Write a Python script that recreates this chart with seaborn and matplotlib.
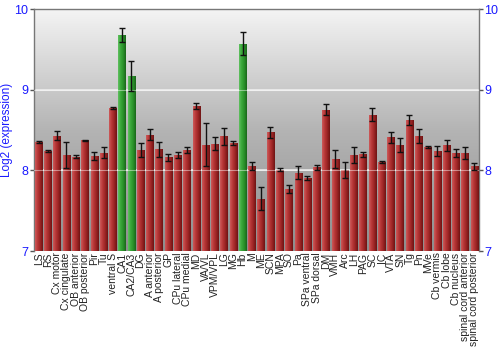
import numpy as np
import pandas as pd
import matplotlib
matplotlib.use("Agg")
import matplotlib.pyplot as plt
import seaborn as sns
from matplotlib.colors import LinearSegmentedColormap

regions = ["LS", "RS", "Cx motor", "Cx cingulate", "OB anterior", "OB posterior", "Pir", "Tu",
           "ventral S", "CA1", "CA2/CA3", "DG", "A anterior", "A posterior", "GP", "CPu lateral",
           "CPu medial", "MD", "VA/VL", "VPM/VPL", "LG", "MG", "Hb", "M", "ME", "SCN", "MPA", "SO",
           "Pa", "SPa ventral", "SPa dorsal", "DM", "VMH", "Arc", "LH", "PAG", "SC", "IC", "VTA",
           "SN", "Tg", "Pn", "MVe", "Cb vermis", "Cb lobe", "Cb nucleus", "spinal cord anterior",
           "spinal cord posterior"]
expression = [8.35, 8.24, 8.43, 8.19, 8.17, 8.37, 8.18, 8.22,
              8.77, 9.68, 9.17, 8.25, 8.44, 8.26, 8.16, 8.19,
              8.25, 8.80, 8.32, 8.33, 8.42, 8.34, 9.57, 8.05, 7.65, 8.47, 8.01, 7.77,
              7.97, 7.905, 8.04, 8.75, 8.14, 8.00, 8.19, 8.20, 8.69, 8.10, 8.41,
              8.31, 8.62, 8.43, 8.29, 8.24, 8.31, 8.21, 8.215, 8.05]
error = [0.01, 0.01, 0.06, 0.16, 0.02, 0.01, 0.05, 0.07,
         0.01, 0.09, 0.19, 0.09, 0.07, 0.09, 0.04, 0.04,
         0.035, 0.04, 0.27, 0.08, 0.10, 0.02, 0.145, 0.05, 0.145, 0.07, 0.015, 0.05,
         0.08, 0.02, 0.03, 0.07, 0.11, 0.10, 0.095, 0.03, 0.08, 0.015, 0.065,
         0.087, 0.06, 0.085, 0.01, 0.06, 0.07, 0.05, 0.075, 0.04]
highlight = ["CA1", "CA2/CA3", "Hb"]
y_ticks = [7, 8, 9, 10]

df = pd.DataFrame({"region": regions, "expr": expression, "err": error})
df["group"] = ["green" if r in highlight else "red" for r in regions]

sns.set_style("white")
plt.rcParams["font.family"] = ["Liberation Sans", "DejaVu Sans"]

fig = plt.figure(figsize=(5, 3.5), dpi=100)
ax = fig.add_axes([34 / 500, (350 - 251) / 350, (479 - 34) / 500, (251 - 9) / 350])

ax.set_ylim(7, 10)
ax.set_xlim(-0.5, len(regions) - 0.5)

# background gradient
bg = LinearSegmentedColormap.from_list("bg", ["#8e8e8e", "#b4b4b4", "#f4f4f4"])
grad = np.linspace(0, 1, 256).reshape(-1, 1)
ax.imshow(grad, aspect="auto", cmap=bg, origin="lower",
          extent=[-0.5, len(regions) - 0.5, 7, 10], zorder=0)

for v in [8, 9]:
    ax.axhline(v, color="#f4f4f4", lw=1.2, alpha=0.85, zorder=1)
    ax.axhline(v, color="#ffffff", lw=0.8, alpha=0.45, zorder=3.5)

palette = {"red": "#b03030", "green": "#34a034"}
sns.barplot(data=df, x="region", y="expr", hue="group", palette=palette, dodge=False,
            width=0.8, legend=False, ax=ax, errorbar=None, zorder=2, linewidth=0)

red_cm = LinearSegmentedColormap.from_list("r", ["#cc5a5a", "#b83838", "#9a2424", "#6e1414"])
green_cm = LinearSegmentedColormap.from_list("g", ["#60c060", "#3aa83a", "#2a902a", "#1a661a"])
hgrad = np.linspace(0, 1, 64).reshape(1, -1)
for p in ax.patches:
    h = p.get_height()
    if h is None or np.isnan(h) or h == 0:
        continue
    x0 = p.get_x()
    w = p.get_width()
    fc = p.get_facecolor()
    cm = green_cm if fc[1] > fc[0] else red_cm
    im = ax.imshow(hgrad, aspect="auto", cmap=cm, extent=[x0, x0 + w, 7, h], zorder=3)
    im.set_clip_path(p)

ax.errorbar(np.arange(len(regions)), df["expr"], yerr=df["err"], fmt="none",
            ecolor="#111111", elinewidth=1, capsize=2, capthick=1, zorder=4)

ax.set_xlim(-0.5, len(regions) - 0.5)
ax.set_ylim(7, 10)
ax.set_yticks(y_ticks)
ax.set_yticklabels([str(t) for t in y_ticks])
ax.tick_params(axis="y", which="both", left=True, right=True, labelleft=True, labelright=True,
               length=3, width=1, color="#555555", labelcolor="#1a1aff", labelsize=9, pad=1)
ax.set_xticks(range(len(regions)))
ax.set_xticklabels(regions, rotation=90, fontsize=7.5, color="#222222")
ax.tick_params(axis="x", length=0, pad=1)
ax.set_xlabel("")
ax.set_ylabel("Log2 (expression)", color="#1a1aff", fontsize=8.5, labelpad=1)

for s in ["left", "right", "top"]:
    ax.spines[s].set_color("#777777")
    ax.spines[s].set_linewidth(1)
    ax.spines[s].set_visible(True)
ax.spines["bottom"].set_visible(False)

fig.savefig("out.png", dpi=100)
